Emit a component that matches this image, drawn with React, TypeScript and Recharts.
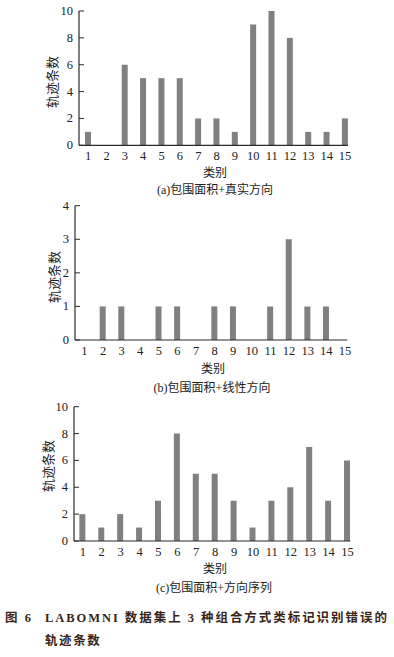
import React from 'react';
import { BarChart, Bar, XAxis, YAxis } from 'recharts';

const categories = [1, 2, 3, 4, 5, 6, 7, 8, 9, 10, 11, 12, 13, 14, 15];
const seriesA = [1, 0, 6, 5, 5, 5, 2, 2, 1, 9, 10, 8, 1, 1, 2];
const seriesB = [0, 1, 1, 0, 1, 1, 0, 1, 1, 0, 1, 3, 1, 1, 0];
const seriesC = [2, 1, 2, 1, 3, 8, 5, 5, 3, 1, 3, 4, 7, 3, 6];
const ticksTen = [0, 2, 4, 6, 8, 10];
const ticksFour = [0, 1, 2, 3, 4];

const yLabel = '轨迹条数';
const xLabel = '类别';
const captionA = '(a)包围面积+真实方向';
const captionB = '(b)包围面积+线性方向';
const captionC = '(c)包围面积+方向序列';

const SERIF = '"Liberation Serif", "Noto Sans CJK SC", serif';
const AXIS = '#2b2b2b';
const BAR = '#808080';

const YTick = (props: any) => {
  const { x, y, payload } = props;
  return (
    <g>
      <line x1={x + 6} x2={x + 11} y1={y} y2={y} stroke={AXIS} strokeWidth={1} />
      <text x={x} y={y} textAnchor="end" dominantBaseline="central" fontFamily={SERIF} fontSize={12.5} fill="#222">
        {payload.value}
      </text>
    </g>
  );
};

type PanelProps = {
  top: number;
  values: number[];
  yTicks: number[];
  yMax: number;
  xDomain: [number, number];
  margin: { top: number; left: number; right: number; bottom: number };
  yWidth: number;
};

const Panel = ({ top, values, yTicks, yMax, xDomain, margin, yWidth }: PanelProps) => {
  const data = categories.map((c, i) => ({ cat: c, v: values[i] }));
  return (
    <div style={{ position: 'absolute', left: 0, top, width: 394, height: 170 }}>
      <BarChart width={394} height={170} data={data} margin={margin}>
        <XAxis
          dataKey="cat"
          type="number"
          domain={xDomain}
          ticks={categories}
          interval={0}
          allowDataOverflow
          tickLine={false}
          tickSize={0}
          tickMargin={6}
          height={20}
          axisLine={{ stroke: AXIS, strokeWidth: 1.2 }}
          tick={{ fontFamily: SERIF, fontSize: 12.5, fill: '#222' }}
        />
        <YAxis
          type="number"
          domain={[0, yMax]}
          ticks={yTicks}
          interval={0}
          width={yWidth}
          tickLine={false}
          tickSize={0}
          tickMargin={6}
          axisLine={{ stroke: AXIS, strokeWidth: 1.2 }}
          tick={<YTick />}
        />
        <Bar dataKey="v" fill={BAR} barSize={6} isAnimationActive={false} />
      </BarChart>
    </div>
  );
};

const Centered = ({ x, y, text, size = 12, rotate = 0 }: { x: number; y: number; text: string; size?: number; rotate?: number }) => (
  <div
    style={{
      position: 'absolute',
      left: x,
      top: y,
      transform: `translate(-50%, -50%) rotate(${rotate}deg)`,
      fontFamily: SERIF,
      fontSize: size,
      lineHeight: 1,
      whiteSpace: 'nowrap',
      color: '#222',
    }}
  >
    {text}
  </div>
);

export default function App() {
  return (
    <div style={{ position: 'absolute', left: 0, top: 0, width: 394, height: 657, background: '#fff', overflow: 'hidden' }}>
      <Panel
        top={0}
        values={seriesA}
        yTicks={ticksTen}
        yMax={10}
        xDomain={[0.5, 15.16]}
        margin={{ top: 11, left: 39, right: 46, bottom: 4.7 }}
        yWidth={40}
      />
      <Panel
        top={195}
        values={seriesB}
        yTicks={ticksFour}
        yMax={4}
        xDomain={[0.495, 15.13]}
        margin={{ top: 10.7, left: 35, right: 46.7, bottom: 5 }}
        yWidth={40}
      />
      <Panel
        top={395}
        values={seriesC}
        yTicks={ticksTen}
        yMax={10}
        xDomain={[0.534, 15.15]}
        margin={{ top: 11.7, left: 34, right: 43.7, bottom: 4 }}
        yWidth={40}
      />

      <Centered x={52} y={82} text={yLabel} size={13} rotate={-90} />
      <Centered x={215} y={173} text={xLabel} size={12} />
      <Centered x={215} y={190} text={captionA} size={12} />

      <Centered x={54} y={277} text={yLabel} size={13} rotate={-90} />
      <Centered x={213} y={369} text={xLabel} size={12} />
      <Centered x={212} y={388} text={captionB} size={12} />

      <Centered x={48} y={466} text={yLabel} size={13} rotate={-90} />
      <Centered x={215} y={569} text={xLabel} size={12} />
      <Centered x={214} y={588} text={captionC} size={12} />

      <div
        style={{
          position: 'absolute',
          left: 5,
          top: 607,
          fontFamily: SERIF,
          fontWeight: 'bold',
          fontSize: 12.5,
          lineHeight: '23px',
          color: '#3a2418',
          whiteSpace: 'nowrap',
        }}
      >
        <div>
          <span style={{ display: 'inline-block', width: 40, letterSpacing: 2 }}>图 6</span>
          <span style={{ letterSpacing: 1.95 }}>LABOMNI 数据集上 3 种组合方式类标记识别错误</span>
          <span>的</span>
        </div>
        <div style={{ paddingLeft: 40, letterSpacing: 1.6 }}>轨迹条数</div>
      </div>
    </div>
  );
}
